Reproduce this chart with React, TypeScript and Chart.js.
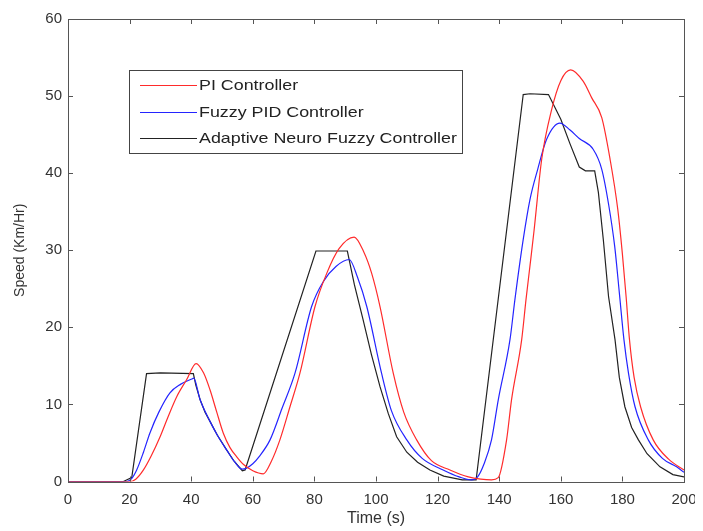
import React, { useEffect, useRef } from "react";
import { Chart, registerables } from "chart.js";

Chart.register(...registerables);

const piTime = [0, 20, 22, 24.5, 27, 29.9, 32.5, 35.3, 38.5, 41.6, 44, 46.1, 48.3, 50.4, 52.6, 54.8, 57, 60, 63.4, 66, 68.8, 72, 75.3, 80.2, 84, 88, 92.9, 96, 98.6, 101.3, 105.6, 109, 113.2, 118, 124, 130, 134, 137.5, 139.7, 142.4, 144, 147.3, 148.7, 150, 151.3, 153.8, 157, 160, 163.2, 167.3, 170, 173.3, 176, 178.5, 180, 181.2, 182.3, 183.8, 185.9, 190, 195, 200];
const piSpeed = [0, 0, 0.3, 1.5, 3.3, 5.8, 8.4, 11, 13.2, 15.3, 14.1, 11.9, 9, 6.3, 4.4, 3.2, 2.2, 1.4, 1.0, 2.6, 5.4, 9.6, 14.05, 22.7, 27, 30.2, 31.7, 29.8, 27, 22.7, 14.05, 9, 5.4, 2.7, 1.5, 0.6, 0.3, 0.2, 0.5, 5.4, 10.6, 18.4, 23.6, 28, 32.5, 41.8, 48.2, 52, 53.4, 51.9, 49.8, 47.2, 41.8, 35.3, 29.5, 24, 18.4, 13.5, 9.7, 5.4, 2.9, 1.5];

const fuzzyTime = [0, 19, 20.5, 22.3, 24.5, 26.6, 29.5, 33.1, 36.5, 40.2, 40.8, 42.9, 46.1, 48.5, 51.5, 54, 56.6, 57.8, 60, 62, 65.6, 69.5, 73.7, 79.1, 83, 87, 91.3, 94, 97, 101.8, 105, 110, 115, 121.8, 127, 131, 133, 135, 137.5, 139.7, 143.5, 145.1, 147.8, 150, 152.5, 155.4, 159.7, 163, 166, 170.5, 173.3, 175.5, 177.5, 179, 180.5, 182, 184.1, 188.4, 193, 197.6, 200];
const fuzzySpeed = [0, 0, 0.3, 1.5, 3.8, 6.3, 9, 11.5, 12.6, 13.3, 13.4, 10.6, 7.8, 6, 4.1, 2.6, 1.6, 1.7, 2.3, 3.2, 5.4, 9.5, 14.05, 22.7, 26, 27.9, 28.8, 26.5, 22.7, 14.05, 9.2, 5.4, 3, 1.5, 0.6, 0.2, 0.6, 2.2, 5.4, 10.6, 18.4, 23.6, 31.4, 36.6, 40.5, 44.4, 46.5, 45.6, 44.5, 43.1, 40.5, 36, 30.5, 24.5, 18.4, 14, 9.7, 5.4, 3, 1.9, 1.2];

const anfisTime = [0, 18, 19.5, 20.7, 25.5, 30, 40.7, 41.5, 42.9, 44.5, 46.1, 48.5, 51.5, 54, 56.6, 57.5, 80.5, 90.7, 93, 95.8, 98.5, 101.3, 104, 106.7, 110, 113.5, 117.5, 122, 128, 132.5, 147.8, 150, 156, 160, 163, 166, 168, 171, 172.2, 173.8, 175.5, 177.6, 179, 180.8, 183, 185.2, 188, 192.2, 196.4, 200];
const anfisSpeed = [0, 0, 0.3, 0.5, 14, 14.1, 14, 12.5, 10.6, 9, 7.8, 6, 4.1, 2.6, 1.4, 1.5, 29.9, 29.9, 25.5, 21, 16.5, 12.3, 8.8, 5.8, 3.8, 2.5, 1.5, 0.7, 0.2, 0.2, 50.2, 50.3, 50.2, 47, 43.8, 40.8, 40.3, 40.3, 37.5, 31.4, 24, 18.4, 13.5, 9.7, 7, 5.4, 3.6, 1.9, 0.9, 0.6];

const seriesNames = ["PI Controller", "Fuzzy PID Controller", "Adaptive Neuro Fuzzy Controller"];
const seriesColors = ["#ff2b2b", "#2424ff", "#222222"];

const xTicks = [0, 20, 40, 60, 80, 100, 120, 140, 160, 180, 200];
const yTicks = [0, 10, 20, 30, 40, 50, 60];

const toPoints = (t: number[], v: number[]) => t.map((x, i) => ({ x, y: v[i] }));

const framePlugin = {
  id: "frameTicks",
  afterDatasetsDraw(chart: any) {
    const { ctx, chartArea: a, scales } = chart;
    ctx.save();
    ctx.strokeStyle = "#555";
    ctx.lineWidth = 1;
    ctx.strokeRect(Math.round(a.left) + 0.5, Math.round(a.top) + 0.5, Math.round(a.right - a.left), Math.round(a.bottom - a.top));
    const len = 5;
    ctx.beginPath();
    xTicks.forEach((v) => {
      const px = Math.round(scales.x.getPixelForValue(v)) + 0.5;
      ctx.moveTo(px, a.bottom);
      ctx.lineTo(px, a.bottom - len);
      ctx.moveTo(px, a.top);
      ctx.lineTo(px, a.top + len);
    });
    yTicks.forEach((v) => {
      const py = Math.round(scales.y.getPixelForValue(v)) + 0.5;
      ctx.moveTo(a.left, py);
      ctx.lineTo(a.left + len, py);
      ctx.moveTo(a.right, py);
      ctx.lineTo(a.right - len, py);
    });
    ctx.stroke();

    // legend
    const bx = Math.round(a.left + 61);
    const by = Math.round(a.top + 51);
    const bw = 333;
    const bh = 83;
    ctx.fillStyle = "#fff";
    ctx.fillRect(bx, by, bw, bh);
    ctx.strokeStyle = "#444";
    ctx.lineWidth = 1;
    ctx.strokeRect(bx + 0.5, by + 0.5, bw, bh);
    ctx.font = "15px 'Liberation Sans', Arial, sans-serif";
    ctx.textBaseline = "middle";
    seriesNames.forEach((name, i) => {
      const y = Math.round(by + 15 + i * 26.5) + 0.5;
      ctx.strokeStyle = seriesColors[i];
      ctx.lineWidth = 1;
      ctx.beginPath();
      ctx.moveTo(bx + 11, y);
      ctx.lineTo(bx + 68, y);
      ctx.stroke();
      ctx.fillStyle = "#222";
      ctx.save();
      ctx.translate(bx + 70, y);
      ctx.scale(1.19, 1);
      ctx.fillText(name, 0, 0);
      ctx.restore();
    });
    ctx.restore();
  },
};

export default function App() {
  const ref = useRef<HTMLCanvasElement>(null);
  useEffect(() => {
    if (!ref.current) return;
    const tickFont = { family: "'Liberation Sans', Arial, sans-serif", size: 15 };
    const chart = new Chart(ref.current, {
      type: "line",
      data: {
        datasets: [
          { label: seriesNames[0], data: toPoints(piTime, piSpeed), borderColor: seriesColors[0], borderWidth: 1.2, pointRadius: 0, cubicInterpolationMode: "monotone", fill: false },
          { label: seriesNames[1], data: toPoints(fuzzyTime, fuzzySpeed), borderColor: seriesColors[1], borderWidth: 1.2, pointRadius: 0, cubicInterpolationMode: "monotone", fill: false },
          { label: seriesNames[2], data: toPoints(anfisTime, anfisSpeed), borderColor: seriesColors[2], borderWidth: 1.2, pointRadius: 0, tension: 0, fill: false },
        ],
      } as any,
      options: {
        animation: false,
        responsive: true,
        maintainAspectRatio: false,
        layout: { padding: { top: 11, right: 11, left: 0, bottom: 0 } },
        plugins: { legend: { display: false }, tooltip: { enabled: false } },
        scales: {
          x: {
            type: "linear",
            min: 0,
            max: 200,
            afterBuildTicks: (s: any) => { s.ticks = xTicks.map((v) => ({ value: v })); },
            afterFit: (s: any) => { s.height = 49.5; s.paddingLeft = 0; s.paddingRight = 0; },
            grid: { display: false, drawTicks: false },
            border: { display: false },
            ticks: { font: tickFont, color: "#333", padding: 9, maxRotation: 0 },
            title: { display: true, text: "Time (s)", font: { family: "'Liberation Sans', Arial, sans-serif", size: 16 }, color: "#333", padding: { top: 0, bottom: 3 } },
          },
          y: {
            type: "linear",
            min: 0,
            max: 60,
            afterBuildTicks: (s: any) => { s.ticks = yTicks.map((v) => ({ value: v })); },
            afterFit: (s: any) => { s.width = 60; s.paddingTop = 0; s.paddingBottom = 0; },
            grid: { display: false, drawTicks: false },
            border: { display: false },
            ticks: { font: tickFont, color: "#333", padding: 6 },
            title: { display: true, text: "Speed (Km/Hr)", font: { family: "'Liberation Sans', Arial, sans-serif", size: 14 }, color: "#333", padding: { top: 3.6, bottom: 0 } },
          },
        },
      } as any,
      plugins: [framePlugin],
    });
    return () => chart.destroy();
  }, []);
  return (
    <div style={{ width: 687, height: 523, position: "relative" }}>
      <canvas ref={ref} />
    </div>
  );
}
